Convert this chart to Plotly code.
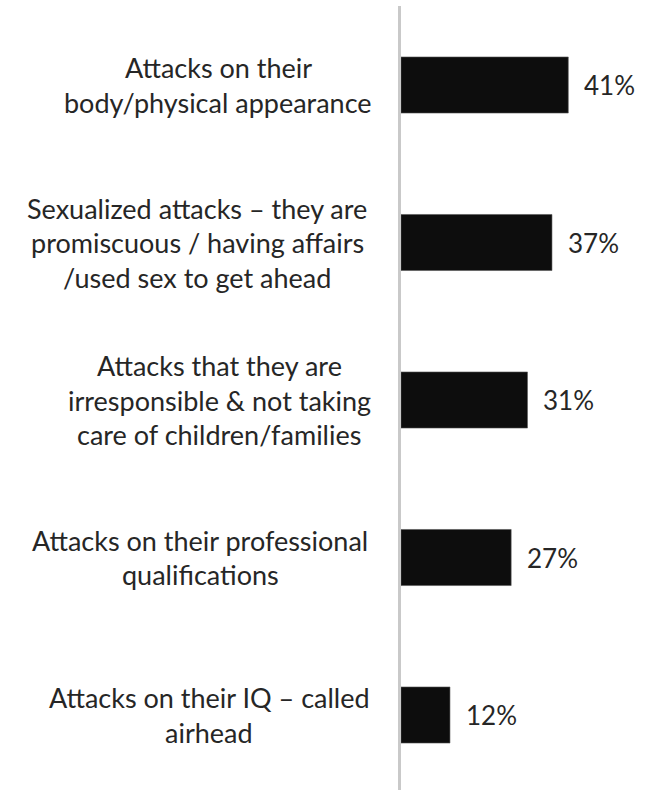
import plotly.graph_objects as go

# Categories (each entry holds the wrapped lines of one label), top to bottom
category_lines = [
    ["Attacks on their", "body/physical appearance"],
    ["Sexualized attacks \u2013 they are", "promiscuous / having affairs", "/used sex to get ahead"],
    ["Attacks that they are", "irresponsible & not taking", "care of children/families"],
    ["Attacks on their professional", "qualifications"],
    ["Attacks on their IQ \u2013 called", "airhead"],
]
values = [41, 37, 31, 27, 12]

categories = [" ".join(lines) for lines in category_lines]

# Layout constants
W, H = 651, 790
LEFT, TOP = 401, 6
PX_PER_PCT = 4.08
LINE_GAP = 34.5
FONT = "Lato"
TEXT_COLOR = "#262626"
label_centers_px = [218, 197, 219, 200, 209]

fig = go.Figure(
    go.Bar(
        x=values,
        y=categories,
        orientation="h",
        width=0.356,
        marker=dict(color="#0d0d0d", line=dict(color="#555555", width=0.6)),
        hoverinfo="skip",
    )
)

annotations = []
for cat, lines, cx in zip(categories, category_lines, label_centers_px):
    n = len(lines)
    for i, line in enumerate(lines):
        offset = (i - (n - 1) / 2) * LINE_GAP
        annotations.append(dict(
            x=(cx - LEFT) / (W - LEFT), xref="paper", xanchor="center",
            y=cat, yref="y", yanchor="middle", yshift=-offset,
            text=line, showarrow=False,
            font=dict(family=FONT, size=27, color=TEXT_COLOR),
        ))

for cat, v in zip(categories, values):
    annotations.append(dict(
        x=v, xref="x", xanchor="left", xshift=14,
        y=cat, yref="y", yanchor="middle",
        text=f"{v}%", showarrow=False,
        font=dict(family=FONT, size=26, color=TEXT_COLOR),
    ))

plot_h = H - TOP
px_per_cat = 157.5
top_val = -(85 - TOP) / px_per_cat
bottom_val = top_val + plot_h / px_per_cat

fig.update_layout(
    width=W, height=H,
    margin=dict(l=LEFT, r=0, t=TOP, b=0, pad=0),
    paper_bgcolor="white", plot_bgcolor="white",
    showlegend=False,
    annotations=annotations,
    xaxis=dict(range=[0, (W - LEFT) / PX_PER_PCT], visible=False, fixedrange=True),
    yaxis=dict(
        categoryorder="array", categoryarray=categories,
        range=[bottom_val, top_val],
        showticklabels=False, ticks="", showgrid=False, zeroline=False,
        showline=True, linecolor="#c9c9c9", linewidth=2.5,
        fixedrange=True,
    ),
)

fig.write_html("out.html", config={"displayModeBar": False})
